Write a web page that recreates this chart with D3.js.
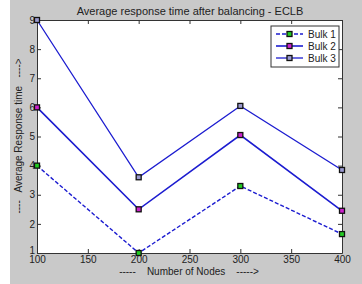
<!DOCTYPE html>
<html>
<head>
<meta charset="utf-8">
<script src="https://cdn.jsdelivr.net/npm/d3@7"></script>
<style>
  body { margin: 0; background: #fff; }
  text { font-family: "Liberation Sans", Arial, sans-serif; }
</style>
</head>
<body>
<div id="chart"></div>
<script>
// data
const nodes = [100, 200, 300, 400];
const bulk1 = [4, 1, 3.3, 1.65];
const bulk2 = [6, 2.5, 5.05, 2.45];
const bulk3 = [9, 3.6, 6.05, 3.85];
const seriesNames = ["Bulk 1", "Bulk 2", "Bulk 3"];
const xTicks = [100, 150, 200, 250, 300, 350, 400];
const yTicks = [1, 2, 3, 4, 5, 6, 7, 8, 9];

const width = 362, height = 284;
const margin = { top: 20, right: 20, bottom: 31, left: 37 };

const svg = d3.select("#chart").append("svg")
  .attr("width", width)
  .attr("height", height);

// figure background (gray with white strip on the left)
svg.append("rect").attr("width", width).attr("height", height).attr("fill", "#fff");
svg.append("rect").attr("x", 10).attr("width", width - 10).attr("height", height).attr("fill", "#c9c9c9");

const x = d3.scaleLinear().domain([100, 400]).range([margin.left, width - margin.right]);
const y = d3.scaleLinear().domain([1, 9]).range([height - margin.bottom, margin.top]);

// plot area
svg.append("rect")
  .attr("x", x(100)).attr("y", y(9))
  .attr("width", x(400) - x(100)).attr("height", y(1) - y(9))
  .attr("fill", "#fff");

// axes (MATLAB style, ticks inward, box all round)
const tickLen = 4;
const axisStyle = g => {
  g.selectAll("path").attr("stroke", "#333");
  g.selectAll("line").attr("stroke", "#333");
  g.selectAll("text").attr("fill", "#222").attr("font-size", 10)
    .attr("font-family", "'Liberation Sans Narrow', 'Liberation Sans', Arial, sans-serif");
};
svg.append("g")
  .attr("transform", `translate(0,${y(1)})`)
  .call(d3.axisBottom(x).tickValues(xTicks).tickSizeInner(-tickLen).tickSizeOuter(0).tickPadding(3))
  .call(axisStyle);
svg.append("g")
  .attr("transform", `translate(0,${y(9)})`)
  .call(d3.axisTop(x).tickValues(xTicks).tickSizeInner(-tickLen).tickSizeOuter(0).tickFormat(""))
  .call(axisStyle);
const yAxis = svg.append("g")
  .attr("transform", `translate(${x(100)},0)`)
  .call(d3.axisLeft(y).tickValues(yTicks).tickSizeInner(-tickLen).tickSizeOuter(0).tickPadding(2))
  .call(axisStyle);
// the "1" sits just above the "100", as in the original
yAxis.selectAll(".tick text").filter(d => d === 1).attr("dy", "0em");
svg.append("g")
  .attr("transform", `translate(${x(400)},0)`)
  .call(d3.axisRight(y).tickValues(yTicks).tickSizeInner(-tickLen).tickSizeOuter(0).tickFormat(""))
  .call(axisStyle);

// series
const series = [
  { name: seriesNames[0], values: bulk1, dash: "4,2", width: 1.4, fill: "#22cc22" },
  { name: seriesNames[1], values: bulk2, dash: null, width: 1.6, fill: "#cc22cc" },
  { name: seriesNames[2], values: bulk3, dash: null, width: 1.3, fill: "#9a9ad0" }
];
const lineColor = "#1c1cd0";
const line = d3.line().x((d, i) => x(nodes[i])).y(d => y(d));

series.forEach(s => {
  svg.append("path")
    .datum(s.values)
    .attr("d", line)
    .attr("fill", "none")
    .attr("stroke", lineColor)
    .attr("stroke-width", s.width)
    .attr("stroke-dasharray", s.dash);
  svg.selectAll(null)
    .data(s.values)
    .enter()
    .append("rect")
    .attr("x", (d, i) => x(nodes[i]) - 2.5)
    .attr("y", d => y(d) - 2.5)
    .attr("width", 5)
    .attr("height", 5)
    .attr("fill", s.fill)
    .attr("stroke", "#111")
    .attr("stroke-width", 1.3);
});

// legend
const legend = svg.append("g").attr("transform", "translate(271,26)");
legend.append("rect")
  .attr("width", 68).attr("height", 41)
  .attr("fill", "#fff").attr("stroke", "#333");
series.forEach((s, i) => {
  const ly = 8 + i * 12;
  legend.append("line")
    .attr("x1", 5).attr("x2", 32).attr("y1", ly).attr("y2", ly)
    .attr("stroke", lineColor).attr("stroke-width", s.width)
    .attr("stroke-dasharray", s.dash);
  legend.append("rect")
    .attr("x", 16).attr("y", ly - 2.5).attr("width", 5).attr("height", 5)
    .attr("fill", s.fill).attr("stroke", "#111").attr("stroke-width", 1.3);
  legend.append("text")
    .attr("x", 37).attr("y", ly + 4)
    .attr("font-size", 10).attr("fill", "#222")
    .text(s.name);
});

// title and axis labels
svg.append("text")
  .attr("x", 190).attr("y", 15)
  .attr("text-anchor", "middle")
  .attr("font-size", 11).attr("fill", "#222")
  .text("Average response time after balancing - ECLB");
svg.append("text")
  .attr("x", 189).attr("y", 275)
  .attr("text-anchor", "middle")
  .attr("font-size", 10).attr("fill", "#222")
  .attr("xml:space", "preserve")
  .text("-----    Number of Nodes    ----->");
svg.append("text")
  .attr("transform", "translate(22,136) rotate(-90)")
  .attr("text-anchor", "middle")
  .attr("font-size", 10).attr("fill", "#222")
  .attr("xml:space", "preserve")
  .text("----   Average Response time   ---->");
</script>
</body>
</html>
